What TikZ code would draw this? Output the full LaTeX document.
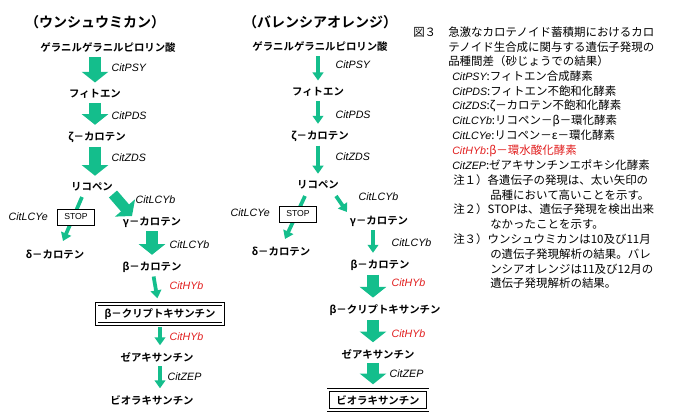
\documentclass[tikz,border=0pt]{standalone}
\usepackage{fontspec}
\setmainfont{Liberation Sans}
\newfontfamily\jp{Noto Sans CJK JP}
\newfontfamily\jpb{Noto Sans CJK JP}[BoldFont=* Bold,UprightFont=* Bold]
\usetikzlibrary{arrows.meta}
\definecolor{arrgreen}{RGB}{20,190,140}
\definecolor{hyred}{RGB}{225,30,30}
\tikzset{
  cpd/.style={font=\jpb\fontsize{7.8pt}{9pt}\selectfont, inner sep=1pt},
  ttl/.style={font=\jpb\fontsize{10.5pt}{12pt}\selectfont, inner sep=1pt},
  gene/.style={font=\itshape\fontsize{8pt}{9pt}\selectfont, inner sep=1pt, anchor=west},
  thick arr/.style={arrgreen, line width=9pt, -{Triangle[width=19.5pt,length=8pt]}, shorten <=2pt, shorten >=4pt},
  thin arr/.style={arrgreen, line width=2.8pt, -{Triangle[width=8pt,length=6pt]}, shorten <=2pt, shorten >=4pt},
  stopbox/.style={draw, fill=white, line width=0.6pt, font=\fontsize{6.5pt}{8pt}\selectfont, minimum width=28pt, minimum height=12pt, inner sep=1pt},
  dblbox/.style={draw, double, double distance=1.5pt, line width=0.6pt, inner xsep=6pt, minimum height=15pt},
  leg/.style={font=\jp\fontsize{8.6pt}{10pt}\selectfont, anchor=west, inner sep=0pt}
}
\newcommand{\cit}[1]{{\rmfamily\itshape\fontsize{8pt}{9pt}\selectfont #1}}
\begin{document}
\begin{tikzpicture}[x=0.75pt,y=-0.75pt]
\useasboundingbox (0,0) rectangle (680,418);
% Unshiu mikan
\node[ttl] (tU) at (95,22) {（ウンシュウミカン）};
\node[cpd] (gU) at (108,48) {ゲラニルゲラニルピロリン酸};
\node[cpd] (fU) at (95,94) {フィトエン};
\node[cpd] (zU) at (97,137) {ζ－カロテン};
\node[cpd] (lU) at (92,187) {リコペン};
\node[cpd] (dU) at (55,255) {δ－カロテン};
\node[cpd] (cU) at (152,222) {γ－カロテン};
\node[cpd] (bU) at (152,267) {β－カロテン};
\node[cpd,dblbox] (kU) at (160,314) {β－クリプトキサンチン};
\node[cpd] (eU) at (157,357) {ゼアキサンチン};
\node[cpd] (vU) at (152,400) {ビオラキサンチン};
\coordinate (lU1) at (82,197);
\coordinate (dU1) at (63,241);
\coordinate (lU2) at (113,194);
\coordinate (cU1) at (132,216);
\draw[thick arr] (gU.south -| fU) -- (fU);
\draw[thick arr] (fU) -- (fU |- zU.north);
\draw[thick arr] (zU.south -| fU) -- (fU |- lU.north);
\draw[thin arr, shorten <=0pt, shorten >=0pt] (lU1) -- (dU1);
\draw[thick arr, line width=8pt, shorten <=0pt, shorten >=0pt] (lU2) -- (cU1);
\draw[thick arr] (cU) -- (bU);
\draw[thin arr] (bU) -- (kU);
\draw[thin arr] (kU) -- (eU.north -| kU);
\draw[thin arr] (eU.south -| kU) -- (vU.north -| kU);
\node[stopbox] (sU) at (76,217) {STOP};
\node[gene] at (110,68) {CitPSY};
\node[gene] at (110,116) {CitPDS};
\node[gene] at (110,158) {CitZDS};
\node[gene] at (7,217) {CitLCYe};
\node[gene] at (134,200) {CitLCYb};
\node[gene] at (168,245) {CitLCYb};
\node[gene,hyred] at (168,286) {CitHYb};
\node[gene,hyred] at (168,337) {CitHYb};
\node[gene] at (166,377) {CitZEP};
% Valencia orange
\node[ttl] (tV) at (320,22) {（バレンシアオレンジ）};
\node[cpd] (gV) at (320,47) {ゲラニルゲラニルピロリン酸};
\node[cpd] (fV) at (318,92) {フィトエン};
\node[cpd] (zV) at (320,136) {ζ－カロテン};
\node[cpd] (lV) at (318,185) {リコペン};
\node[cpd] (dV) at (281,252) {δ－カロテン};
\node[cpd] (cV) at (379,221) {γ－カロテン};
\node[cpd] (bV) at (380,265) {β－カロテン};
\node[cpd] (kV) at (385,310) {β－クリプトキサンチン};
\node[cpd] (eV) at (378,354) {ゼアキサンチン};
\node[cpd,dblbox] (vV) at (378,400) {ビオラキサンチン};
\coordinate (lV1) at (305,196);
\coordinate (dV1) at (285,239);
\coordinate (lV2) at (336,196);
\coordinate (cV1) at (347,212);
\draw[thin arr] (gV.south -| fV) -- (fV);
\draw[thin arr] (fV) -- (fV |- zV.north);
\draw[thin arr] (zV.south -| fV) -- (fV |- lV.north);
\draw[thin arr, shorten <=0pt, shorten >=0pt] (lV1) -- (dV1);
\draw[thin arr, shorten <=0pt, shorten >=0pt] (lV2) -- (cV1);
\draw[thin arr] (cV.south -| 373,0) -- (bV.north -| 373,0);
\draw[thick arr] (bV.south -| 373,0) -- (kV.north -| 373,0);
\draw[thick arr] (kV.south -| 373,0) -- (eV.north -| 373,0);
\draw[thick arr] (eV.south -| 373,0) -- (vV.north -| 373,0);
\node[stopbox] (sV) at (298,214) {STOP};
\node[gene] at (334,65) {CitPSY};
\node[gene] at (334,115) {CitPDS};
\node[gene] at (334,157) {CitZDS};
\node[gene] at (229,213) {CitLCYe};
\node[gene] at (357,197) {CitLCYb};
\node[gene] at (390,243) {CitLCYb};
\node[gene,hyred] at (390,283) {CitHYb};
\node[gene,hyred] at (390,334) {CitHYb};
\node[gene] at (388,374) {CitZEP};
% legend
\node[leg] (fig) at (413,32) {図３};
\node[leg] (l1) at (448,32) {急激なカロテノイド蓄積期におけるカロ};
\node[leg] (l2) at (448,46.8) {テノイド生合成に関与する遺伝子発現の};
\node[leg] (l3) at (448,61.6) {品種間差（砂じょうでの結果）};
\node[leg] (l4) at (452,76.4) {\cit{CitPSY}:フィトエン合成酵素};
\node[leg] (l5) at (452,91.2) {\cit{CitPDS}:フィトエン不飽和化酵素};
\node[leg] (l6) at (452,106) {\cit{CitZDS}:ζ－カロテン不飽和化酵素};
\node[leg] (l7) at (452,120.8) {\cit{CitLCYb}:リコペン－β－環化酵素};
\node[leg] (l8) at (452,135.6) {\cit{CitLCYe}:リコペン－ε－環化酵素};
\node[leg,hyred] (l9) at (452,150.4) {\cit{CitHYb}:β－環水酸化酵素};
\node[leg] (l10) at (452,165.2) {\cit{CitZEP}:ゼアキサンチンエポキシ化酵素};
\node[leg] (l11) at (453,180) {注１）各遺伝子の発現は、太い矢印の};
\node[leg] (l12) at (490,194.8) {品種において高いことを示す。};
\node[leg] (l13) at (453,209.6) {注２）STOPは、遺伝子発現を検出出来};
\node[leg] (l14) at (490,224.4) {なかったことを示す。};
\node[leg] (l15) at (453,239.2) {注３）ウンシュウミカンは10及び11月};
\node[leg] (l16) at (490,254) {の遺伝子発現解析の結果。バレ};
\node[leg] (l17) at (490,268.8) {ンシアオレンジは11及び12月の};
\node[leg] (l18) at (490,283.6) {遺伝子発現解析の結果。};
\end{tikzpicture}
\end{document}
